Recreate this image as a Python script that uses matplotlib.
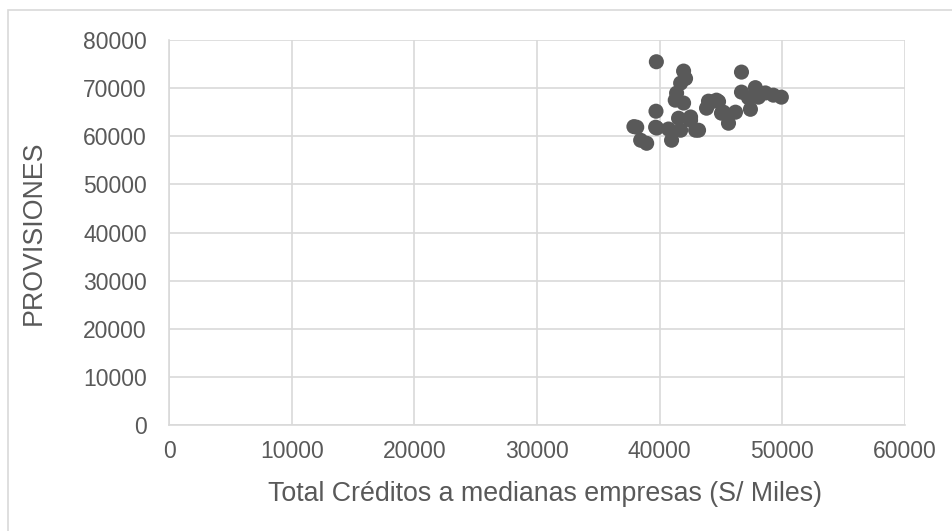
import matplotlib
matplotlib.use("Agg")
import matplotlib.pyplot as plt
from matplotlib.patches import Rectangle

# Total credits to medium-sized companies (S/ thousands) vs. provisions
creditos = [
    37900, 38130, 38450, 38940, 39670, 39700, 39730, 40720, 40970, 41540,
    41380, 41270, 41710, 41950, 42110, 41950, 41710, 42520, 42930, 43170,
    42520, 43820, 43980, 44230, 44630, 44800, 45040, 45200, 45610, 46180,
    46670, 46670, 47240, 47400, 47800, 48050, 48620, 49270, 49920, 39760,
]
provisiones = [
    62000, 61875, 59170, 58540, 61875, 65200, 75480, 61500, 59170, 63750,
    68960, 67500, 71040, 73540, 72000, 66900, 61250, 63330, 61250, 61250,
    64000, 65830, 67290, 67150, 67500, 67200, 64790, 65000, 62710, 65000,
    73330, 69170, 68000, 65600, 70100, 68125, 69000, 68540, 68125, 61700,
]

x_ticks = [0, 10000, 20000, 30000, 40000, 50000, 60000]
y_ticks = [0, 10000, 20000, 30000, 40000, 50000, 60000, 70000, 80000]

plt.rcParams['font.family'] = ['Liberation Sans', 'DejaVu Sans']

fig = plt.figure(figsize=(9.52, 5.31), dpi=100)
fig.patch.set_facecolor("white")

# light frame around the whole chart area
fig.patches.append(Rectangle((8 / 952, -0.05), 1.2, 1 - 10 / 531 + 0.05,
                             transform=fig.transFigure, fill=False,
                             edgecolor="#d9d9d9", linewidth=1.2))

ax = fig.add_axes([169 / 952, 1 - 425 / 531, (905 - 169) / 952, (425 - 40) / 531])
ax.scatter(creditos, provisiones, s=118, color="#595959", edgecolors="none", zorder=3)

ax.set_xlim(0, 60000)
ax.set_ylim(0, 80000)
ax.set_xticks(x_ticks)
ax.set_yticks(y_ticks)
ax.set_xticklabels([str(v) for v in x_ticks])
ax.set_yticklabels([str(v) for v in y_ticks])

ax.grid(True, color="#d9d9d9", linewidth=1.2, zorder=0)
ax.set_axisbelow(True)
for side in ("top", "right"):
    ax.spines[side].set_visible(False)
for side in ("left", "bottom"):
    ax.spines[side].set_color("#d9d9d9")
    ax.spines[side].set_linewidth(1.2)

ax.tick_params(axis="both", length=0, labelsize=16.5, labelcolor="#595959")
ax.tick_params(axis="y", pad=16)
ax.tick_params(axis="x", pad=11)

ax.set_xlabel("Total Créditos a medianas empresas (S/ Miles)", fontsize=19.3,
              color="#595959")
ax.xaxis.set_label_coords(0.511, -0.145)
ax.set_ylabel("PROVISIONES", fontsize=19.3, color="#595959", labelpad=26)

fig.savefig("out.png", dpi=100)
